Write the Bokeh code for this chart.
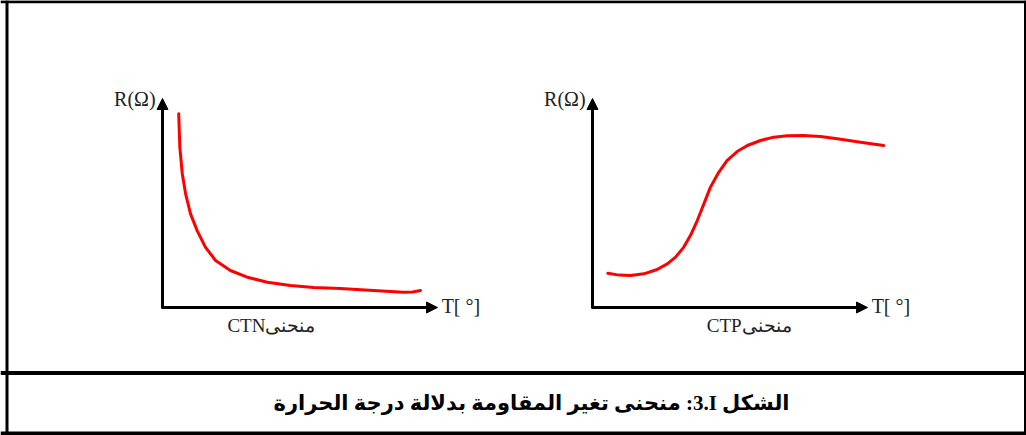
from bokeh.plotting import figure
from bokeh.models import Range1d, Span, Label, Arrow, NormalHead
from bokeh.embed import file_html
from bokeh.resources import INLINE

# ---- data (T and R in arbitrary units 0..100) ----
ctn_T = [5.9, 6.3, 7.2, 8.4, 10.2, 12.6, 15.6, 19.3, 24.7, 30.8, 38.1, 46.5, 55.0, 64.7, 76.7, 87.6, 91.0, 93.8]
ctn_R = [92.7, 76.7, 64.0, 54.4, 44.8, 36.8, 28.9, 22.5, 17.7, 14.5, 12.1, 10.5, 9.6, 9.1, 8.1, 7.3, 7.4, 8.1]

ctp_T = [5.6, 9.6, 13.8, 18.7, 23.5, 27.2, 30.2, 33.2, 35.6, 38.1, 40.5, 42.9, 45.9, 48.9,
         52.6, 56.3, 61.1, 65.9, 70.8, 76.8, 82.9, 89.0, 97.5, 105.9]
ctp_R = [16.4, 15.5, 15.3, 16.1, 18.2, 20.9, 24.1, 28.9, 34.4, 41.6, 49.6, 57.6, 64.7, 70.3,
         74.6, 77.5, 79.9, 81.5, 82.2, 82.3, 81.8, 80.7, 79.1, 77.5]

y_label = "R(Ω)"
x_label = "T[ °]"
ctn_name = "منحنىCTN"
ctp_name = "منحنىCTP"
fig_number = "3.I"
caption_head = "الشكل"
caption_body = "منحنى تغير المقاومة بدلالة درجة الحرارة"

RLI, LRI, PDI = "\u2067", "\u2066", "\u2069"
caption = RLI + caption_head + " " + LRI + fig_number + PDI + ": " + caption_body + PDI

W, H = 1026, 435
p = figure(width=W, height=H, x_range=Range1d(0, W), y_range=Range1d(H, 0),
           output_backend="svg", toolbar_location=None, min_border=0)
p.axis.visible = False
p.grid.visible = False
p.outline_line_color = None
p.background_fill_color = "white"
p.border_fill_color = "white"
p.styles = {"position": "absolute", "left": "0px", "top": "0px"}

# frame lines of the figure box
for loc, dim, lw in [(1.2, "width", 3), (372.5, "width", 4), (433.0, "width", 4)]:
    p.add_layout(Span(location=loc, dimension=dim, line_color="black", line_width=lw))
p.add_layout(Span(location=6.5, dimension="height", line_color="black", line_width=3))
p.add_layout(Span(location=1024.5, dimension="height", line_color="black", line_width=2))

ORIGIN_Y, TIP_Y, AX_LEN = 307.0, 98.0, 275.0
panels = [
    ("ctn", 162.0, ctn_T, ctn_R, ctn_name, 39.6),
    ("ctp", 592.0, ctp_T, ctp_R, ctp_name, 57.0),
]
sx = AX_LEN / 100.0
sy = (ORIGIN_Y - TIP_Y) / 100.0
for name, ox, T, R, lab, lab_x in panels:
    p.extra_x_ranges[name] = Range1d(-ox / sx, (W - ox) / sx)
    p.extra_y_ranges[name] = Range1d(-(H - ORIGIN_Y) / sy, ORIGIN_Y / sy)
    kw = dict(x_range_name=name, y_range_name=name)
    p.line(T, R, line_color="#ff0000", line_width=3, line_join="round", line_cap="round", **kw)
    # axes with arrow heads
    for xe, ye in [(0, 100), (100, 0)]:
        p.add_layout(Arrow(x_start=0, y_start=0, x_end=xe, y_end=ye,
                           line_color="black", line_width=3,
                           end=NormalHead(size=11, fill_color="black", line_color="black", line_width=1),
                           **kw))
    p.line([0, 0, 1], [1, 0, 0], line_color="black", line_width=3, line_join="round", **kw)
    p.add_layout(Label(x=-2.5, y=100, text=y_label, text_align="right", text_baseline="middle",
                       text_font="Liberation Serif", text_font_size="20px", text_color="#222222", **kw))
    p.add_layout(Label(x=101.5, y=0.5, text=x_label, text_align="left", text_baseline="middle",
                       text_font="Liberation Serif", text_font_size="20px", text_color="#222222", **kw))
    p.add_layout(Label(x=lab_x, y=-8.6, text=RLI + lab + PDI, text_align="center", text_baseline="middle",
                       text_font="Liberation Serif", text_font_size="19px", text_color="#222222", **kw))

p.add_layout(Label(x=531, y=402, text=caption, text_align="center", text_baseline="middle",
                   text_font="Liberation Serif, DejaVu Sans", text_font_style="bold", text_font_size="21px",
                   text_color="black"))

open("out.html", "w").write(file_html(p, INLINE))
